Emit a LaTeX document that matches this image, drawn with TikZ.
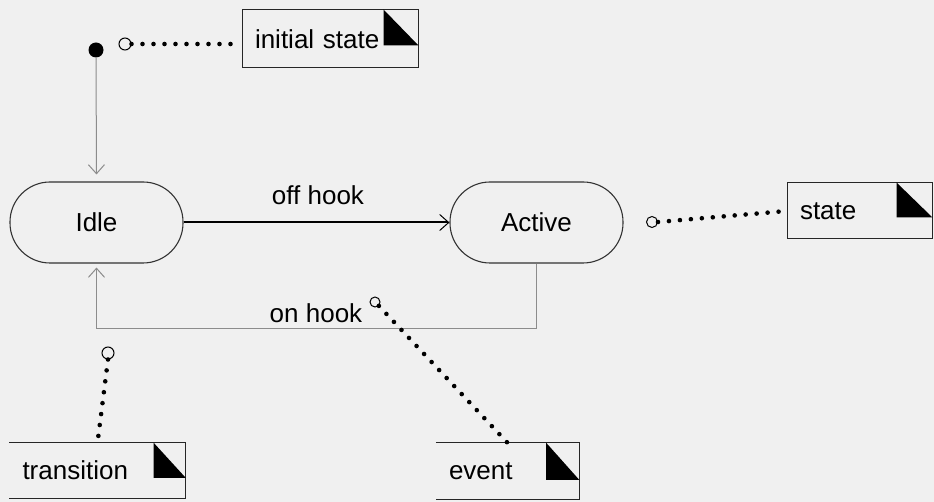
\documentclass[tikz,border=0pt]{standalone}
\usepackage{fontspec}
\setmainfont{Liberation Sans}
\usetikzlibrary{arrows.meta,calc}
\definecolor{bg}{RGB}{240,240,240}
\definecolor{tgray}{RGB}{140,140,140}
\begin{document}
\begin{tikzpicture}[x=1pt,y=-1pt,
  every node/.style={font=\fontsize{26}{30}\selectfont},
  statebox/.style={draw=black!80, line width=1.1pt, rounded corners=40pt, minimum width=173pt, minimum height=81pt},
  notebox/.style={draw=black!85, line width=1pt, inner xsep=13pt, align=left, anchor=center},
  opennote/.style={inner xsep=13pt, align=left, anchor=center},
  dotline/.style={line width=4.6pt, line cap=round, dash pattern=on 0pt off 11pt},
  hollow/.style={circle, draw=black, line width=1pt, minimum size=11pt, inner sep=0pt},
  trans/.style={draw=tgray, line width=1pt},
  vtip/.style={-{Straight Barb[length=9pt,width=16pt,line width=1pt]}}
]
\fill[bg] (0,0) rectangle (934,502);
\useasboundingbox (0,0) rectangle (934,502);

% states
\node[statebox] (idle) at (96.5,222.5) {Idle};
\node[statebox] (active) at (536.5,222.5) {Active};
\node[circle, fill=black, minimum size=15pt, inner sep=0pt] (init) at (96,50) {};

% transitions
\draw[trans, vtip, shorten >=7pt] (init) -- (idle.north);
\draw[line width=2pt, vtip, black] (idle.east) -- (active.west);
\node (offhook) at (318,195) {off hook};
\draw[trans, vtip, shorten >=4pt] (active.south) -- ++(0,65) -| (idle.south);
\node (onhook) at (316,313) {on hook};

% notes
\node[notebox, text width=150pt, minimum height=58pt] (ninit) at (330,39) {initial state};
\fill[black] ($(ninit.north east)+(-35,0)$) -- ($(ninit.north east)+(-35,36)$) -- ($(ninit.north east)+(0,36)$) -- cycle;

\node[notebox, text width=119pt, minimum height=56pt] (nstate) at (859.5,211) {state};
\fill[black] ($(nstate.north east)+(-36,0)$) -- ($(nstate.north east)+(-36,35)$) -- ($(nstate.north east)+(0,35)$) -- cycle;

\node[opennote, text width=150pt, minimum height=55pt] (ntrans) at (97.5,470.5) {transition};
\draw[black!85, line width=1pt] (ntrans.north west) -- (ntrans.north east) -- (ntrans.south east) -- (ntrans.south west);
\fill[black] ($(ntrans.north east)+(-32,0)$) -- ($(ntrans.north east)+(-32,35)$) -- ($(ntrans.north east)+(0,35)$) -- cycle;

\node[opennote, text width=117pt, minimum height=56pt] (nevent) at (507.5,471) {event};
\draw[black!85, line width=1pt] (nevent.north west) -- (nevent.north east) -- (nevent.south east) -- (nevent.south west);
\fill[black] ($(nevent.north east)+(-33,0)$) -- ($(nevent.north east)+(-33,37)$) -- ($(nevent.north east)+(0,37)$) -- cycle;

% anchor circles and dotted connectors
\node[hollow, minimum size=12pt] (c1) at (125,44) {};
\node[hollow] (c2) at (652,222) {};
\node[hollow, minimum size=10pt] (c3) at (375,302) {};
\node[hollow, minimum size=12pt] (c4) at (108,353) {};

\draw[dotline] (c1.east) -- (c1 -| ninit.west);
\draw[dotline] (c2.east) -- (nstate.west);
\draw[dotline] (c3.south east) -- (nevent.north);
\draw[dotline] (c4.south) -- (ntrans.north);
\end{tikzpicture}
\end{document}
